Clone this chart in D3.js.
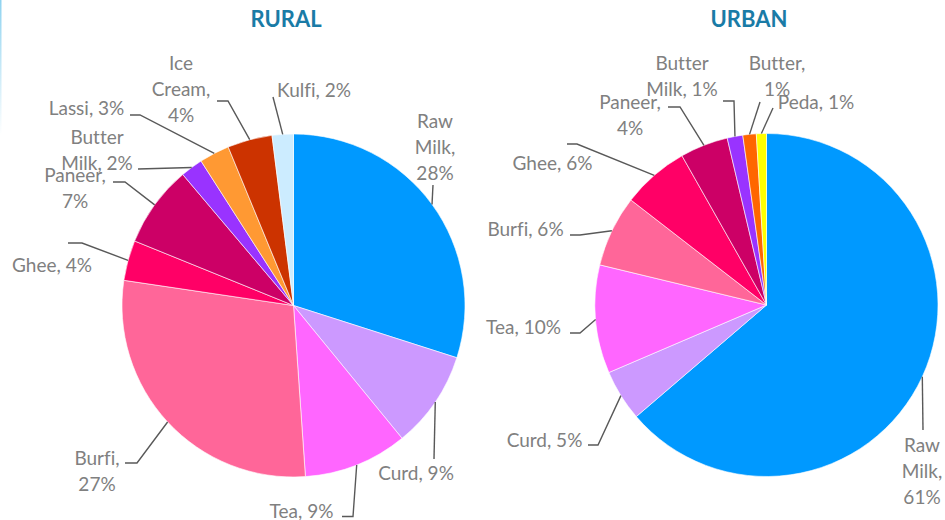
<!DOCTYPE html>
<html>
<head>
<meta charset="utf-8">
<script src="https://cdn.jsdelivr.net/npm/d3@7"></script>
<style>
  html, body { margin: 0; padding: 0; background: #fff; }
  svg { display: block; }
  text { font-variant-ligatures: none; font-feature-settings: "liga" 0; }
</style>
</head>
<body>
<svg id="chart" width="945" height="520"></svg>
<script>
// ---------- DATA ----------
const ruralCategories = ["Raw Milk", "Curd", "Tea", "Burfi", "Ghee", "Paneer", "Butter Milk", "Lassi", "Ice Cream", "Kulfi"];
const ruralValues     = [28.4, 8.7, 9.3, 27.0, 3.6, 7.3, 2.0, 2.7, 4.0, 1.9];
const ruralLabels     = [["Raw", "Milk,", "28%"], ["Curd, 9%"], ["Tea, 9%"], ["Burfi,", "27%"], ["Ghee, 4%"], ["Paneer,", "7%"], ["Butter", "Milk, 2%"], ["Lassi, 3%"], ["Ice", "Cream,", "4%"], ["Kulfi, 2%"]];

const urbanCategories = ["Raw Milk", "Curd", "Tea", "Burfi", "Ghee", "Paneer", "Butter Milk", "Butter", "Peda"];
const urbanValues     = [60.6, 4.6, 9.7, 6.4, 6.0, 4.3, 1.4, 1.2, 0.9];
const urbanLabels     = [["Raw", "Milk,", "61%"], ["Curd, 5%"], ["Tea, 10%"], ["Burfi, 6%"], ["Ghee, 6%"], ["Paneer,", "4%"], ["Butter", "Milk, 1%"], ["Butter,", "1%"], ["Peda, 1%"]];

const titles = ["RURAL", "URBAN"];

// ---------- STYLE / LAYOUT ----------
const colorMap = {
  "Raw Milk": "#0099FF", "Curd": "#CC99FF", "Tea": "#FF66FF", "Burfi": "#FF6699",
  "Ghee": "#FF0066", "Paneer": "#CC0066", "Butter Milk": "#9933FF", "Lassi": "#FF9933",
  "Ice Cream": "#CC3300", "Kulfi": "#CCECFF", "Butter": "#FF6600", "Peda": "#FFFF00"
};

// label layout relative to pie centre: text centre (tx, ty = first line centre), leader start s, optional elbow e
const ruralLayout = [
  {tx: 141.5, ty: -184.5, s: [139.5, -120.5]},
  {tx: 122.5, ty: 167.5, s: [140.5, 153.5]},
  {tx: 8, ty: 205.5, s: [48.5, 211], e: [59.5, 211]},
  {tx: -196.5, ty: 152.5, s: [-168.5, 157.5], e: [-156.5, 157.5]},
  {tx: -241.5, ty: -40.5, s: [-225.5, -62.5], e: [-211.5, -62.5]},
  {tx: -218.5, ty: -130.5, s: [-180.5, -123.5], e: [-168.5, -123.5]},
  {tx: -196.5, ty: -168.5, s: [-155.5, -136.5]},
  {tx: -207, ty: -197.5, s: [-163.5, -190.5], e: [-153.5, -190.5]},
  {tx: -112.5, ty: -242.5, s: [-76.5, -204.5], e: [-65.5, -204.5]},
  {tx: 20.5, ty: -215.5, s: [-20.5, -208.5]}
];
const urbanLayout = [
  {tx: 155.5, ty: 140, s: [156.5, 125]},
  {tx: -222, ty: 135, s: [-178.5, 140], e: [-168.5, 140]},
  {tx: -243, ty: 22, s: [-196.5, 28], e: [-186.5, 28]},
  {tx: -241, ty: -76, s: [-196.5, -70], e: [-186.5, -70]},
  {tx: -214, ty: -142, s: [-199.5, -161], e: [-189.5, -161]},
  {tx: -136.5, ty: -203, s: [-98.5, -198], e: [-86.5, -198]},
  {tx: -84.5, ty: -242, s: [-43.5, -204], e: [-32.5, -204]},
  {tx: 10.5, ty: -242, s: [-6.5, -203]},
  {tx: 49.5, ty: -203, s: [6.5, -197]}
];

const svg = d3.select("#chart");
const FONT = "Lato, 'Open Sans', sans-serif";
const radius = 171.5;
const lineH = 26;

// faint left border accent
const defs = svg.append("defs");
const grad = defs.append("linearGradient").attr("id", "edge").attr("x1", 0).attr("y1", 0).attr("x2", 0).attr("y2", 1);
grad.append("stop").attr("offset", "0%").attr("stop-color", "#8fd3f0");
grad.append("stop").attr("offset", "100%").attr("stop-color", "#ffffff");
svg.append("rect").attr("x", 0).attr("y", 0).attr("width", 1.5).attr("height", 135).attr("fill", "url(#edge)");

const pie = d3.pie().sort(null).value(d => d.value);
const arc = d3.arc().innerRadius(0).outerRadius(radius);
const edgeArc = d3.arc().innerRadius(radius).outerRadius(radius);

function drawPie(cx, cy, cats, vals, labels, layout, title, titleX) {
  svg.append("text")
    .attr("x", titleX).attr("y", 27)
    .attr("text-anchor", "middle")
    .attr("font-family", FONT).attr("font-weight", 700).attr("font-size", 22)
    .attr("fill", "#1A7BA6")
    .text(title);

  const data = cats.map((c, i) => ({cat: c, value: vals[i], label: labels[i], lay: layout[i]}));
  const g = svg.append("g").attr("transform", `translate(${cx},${cy})`);
  const arcs = pie(data);

  g.selectAll("path.slice").data(arcs).join("path")
    .attr("class", "slice")
    .attr("d", arc)
    .attr("fill", d => colorMap[d.data.cat])
    .attr("stroke", "#ffffff").attr("stroke-width", 0.6);

  // leader lines
  g.selectAll("path.leader").data(arcs).join("path")
    .attr("class", "leader")
    .attr("d", d => {
      const m = edgeArc.centroid(d);
      const pts = [d.data.lay.s];
      if (d.data.lay.e) pts.push(d.data.lay.e);
      pts.push(m);
      return d3.line()(pts);
    })
    .attr("fill", "none").attr("stroke", "#595959").attr("stroke-width", 1.4);

  // labels
  const lbl = g.selectAll("text.lbl").data(arcs).join("text")
    .attr("class", "lbl")
    .attr("text-anchor", "middle")
    .attr("font-family", FONT).attr("font-size", 19)
    .attr("fill", "#808080");
  lbl.each(function(d) {
    const t = d3.select(this);
    d.data.label.forEach((line, i) => {
      t.append("tspan")
        .attr("x", d.data.lay.tx)
        .attr("y", d.data.lay.ty + i * lineH + 6.5)
        .text(line);
    });
  });
}

drawPie(293.5, 305.5, ruralCategories, ruralValues, ruralLabels, ruralLayout, titles[0], 286);
drawPie(766.5, 305, urbanCategories, urbanValues, urbanLabels, urbanLayout, titles[1], 749);
</script>
</body>
</html>
